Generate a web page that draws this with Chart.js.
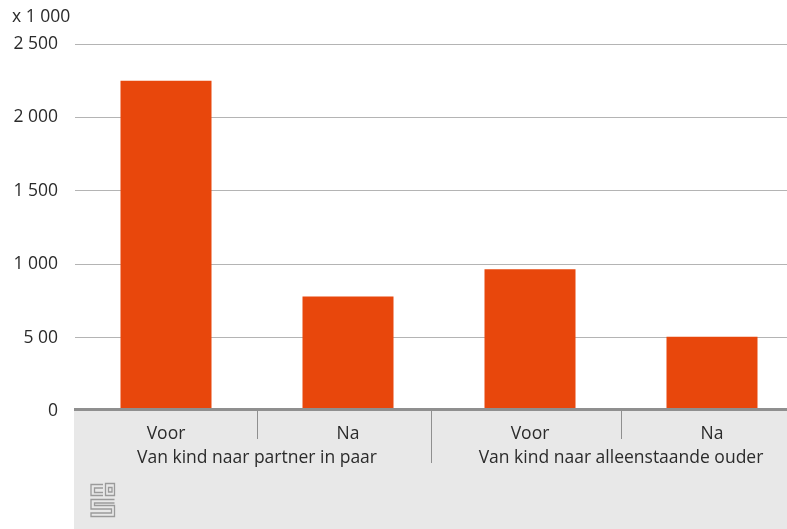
<!DOCTYPE html>
<html>
<head>
<meta charset="utf-8">
<script src="https://cdn.jsdelivr.net/npm/chart.js@4/dist/chart.umd.min.js"></script>
<style>
  html, body { margin: 0; padding: 0; background: #fff; overflow: hidden; }
  #wrap { width: 803px; height: 529px; }
</style>
</head>
<body>
<div id="wrap"><canvas id="chart" width="803" height="529"></canvas></div>
<script>
// data
const CATEGORIES = ['Voor', 'Na', 'Voor', 'Na'];
const GROUPS = ['Van kind naar partner in paar', 'Van kind naar alleenstaande ouder'];
const VALUES = [2250, 780, 965, 505];
const Y_TICKS = [0, 500, 1000, 1500, 2000, 2500];
const Y_TICK_LABELS = ['0', '5 00', '1 000', '1 500', '2 000', '2 500'];
const UNIT_LABEL = 'x 1 000';

const FONT = '"Open Sans", "Noto Sans", sans-serif';
const FSIZE = 17.5;
const TEXT = '#2b2b2b';
const BAR = '#e8470c';
const GRID = '#b4b4b4';
const AXIS = '#8f8f8f';
const BAND = '#e8e8e8';

// grey band under the axis, axis line, separators, unit label and logo
const decor = {
  id: 'decor',
  beforeDraw(chart){
    const {ctx, chartArea} = chart;
    ctx.save();
    ctx.fillStyle = BAND;
    ctx.fillRect(chartArea.left - 1, chartArea.bottom, chart.width, chart.height - chartArea.bottom);
    ctx.fillStyle = TEXT;
    ctx.font = FSIZE + 'px ' + FONT;
    ctx.textAlign = 'left';
    ctx.textBaseline = 'middle';
    ctx.fillText(UNIT_LABEL, 12, 17);
    ctx.restore();
  },
  afterDatasetsDraw(chart){
    const {ctx, chartArea} = chart;
    const x = chart.scales.x;
    ctx.save();
    ctx.strokeStyle = AXIS;
    ctx.lineWidth = 3;
    ctx.beginPath();
    ctx.moveTo(chartArea.left - 1, chartArea.bottom - 1.5);
    ctx.lineTo(chart.width, chartArea.bottom - 1.5);
    ctx.stroke();

    ctx.lineWidth = 1;
    for(let i = 1; i < CATEGORIES.length; i++){
      const mid = (i === CATEGORIES.length / 2);
      let px = Math.round((x.getPixelForValue(i - 1) + x.getPixelForValue(i)) / 2) + 0.5;
      if(mid) px -= 8; // group divider sits a bit left in the original
      ctx.beginPath();
      ctx.moveTo(px, chartArea.bottom);
      ctx.lineTo(px, chartArea.bottom + (mid ? 52 : 28));
      ctx.stroke();
    }

    // cbs logo, rough
    ctx.strokeStyle = '#9a9a9a';
    ctx.lineWidth = 1.3;
    ctx.beginPath();
    ctx.moveTo(103, 484.5); ctx.lineTo(91, 484.5); ctx.lineTo(91, 495.5); ctx.lineTo(103, 495.5);
    ctx.moveTo(103, 488); ctx.lineTo(94.5, 488); ctx.lineTo(94.5, 492.5); ctx.lineTo(103, 492.5);
    ctx.rect(105.5, 483.5, 9, 12);
    ctx.rect(108.5, 487.5, 3.5, 4.5);
    ctx.moveTo(114.5, 499.5); ctx.lineTo(91, 499.5); ctx.lineTo(91, 509); ctx.lineTo(111.5, 509);
    ctx.lineTo(111.5, 513); ctx.lineTo(91, 513); ctx.lineTo(91, 516.5); ctx.lineTo(114.5, 516.5);
    ctx.lineTo(114.5, 505.5); ctx.lineTo(94.5, 505.5); ctx.lineTo(94.5, 503); ctx.lineTo(114.5, 503);
    ctx.stroke();
    ctx.restore();
  }
};

new Chart(document.getElementById('chart'), {
  type: 'bar',
  data: {
    labels: CATEGORIES,
    datasets: [{
      data: VALUES,
      backgroundColor: BAR,
      borderWidth: 0,
      barPercentage: 0.5,
      categoryPercentage: 1
    }]
  },
  options: {
    responsive: false,
    animation: false,
    layout: { padding: { top: 44, left: 0, right: 0, bottom: 0 } },
    plugins: { legend: { display: false }, tooltip: { enabled: false }, title: { display: false } },
    scales: {
      y: {
        min: 0, max: 2500,
        afterBuildTicks: s => { s.ticks = Y_TICKS.map(v => ({value: v})); },
        afterFit: s => { s.width = 75; },
        border: { display: false },
        grid: {
          drawTicks: false,
          color: c => c.tick && c.tick.value === 0 ? 'rgba(0,0,0,0)' : GRID,
          lineWidth: 1
        },
        ticks: {
          padding: 17,
          color: TEXT,
          font: { family: FONT, size: FSIZE },
          callback: v => Y_TICK_LABELS[Y_TICKS.indexOf(v)]
        }
      },
      x: {
        weight: 0,
        offset: true,
        afterFit: s => { s.height = 29; },
        border: { display: false },
        grid: { display: false },
        ticks: { padding: 5, color: TEXT, font: { family: FONT, size: FSIZE }, maxRotation: 0 }
      },
      x2: {
        type: 'category',
        position: 'bottom',
        weight: 1,
        labels: GROUPS,
        offset: true,
        afterFit: s => { s.height = 89; },
        border: { display: false },
        grid: { display: false },
        ticks: { padding: 0, color: TEXT, font: { family: FONT, size: FSIZE }, maxRotation: 0 }
      }
    }
  },
  plugins: [decor]
});
</script>
</body>
</html>
